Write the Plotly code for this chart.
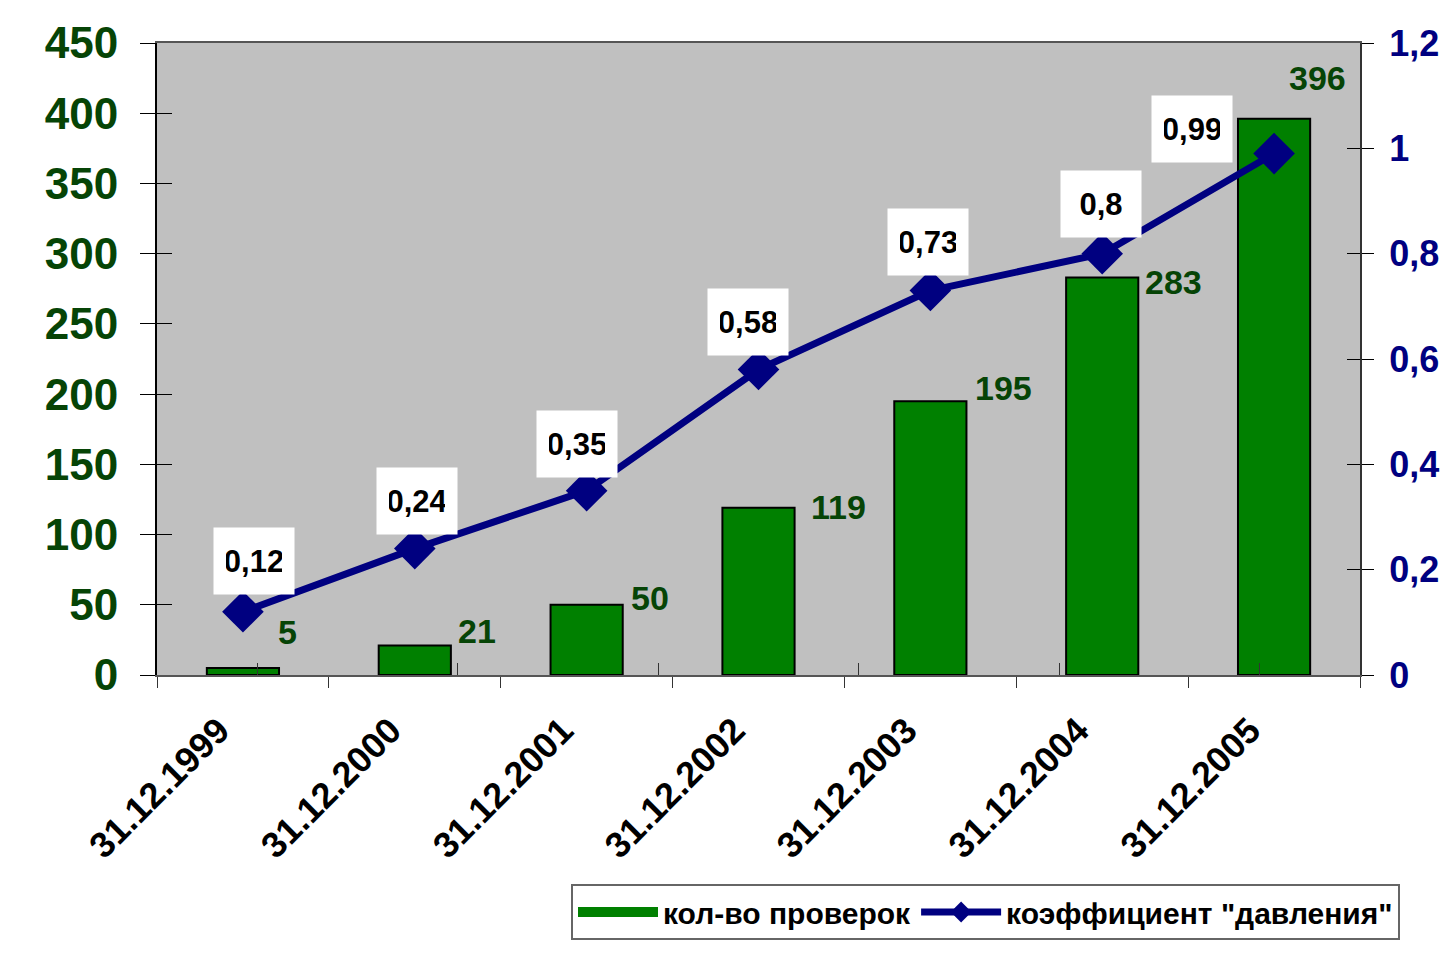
import plotly.graph_objects as go

categories = ["31.12.1999", "31.12.2000", "31.12.2001", "31.12.2002",
              "31.12.2003", "31.12.2004", "31.12.2005"]
checks = [5, 21, 50, 119, 195, 283, 396]
pressure = [0.12, 0.24, 0.35, 0.58, 0.73, 0.80, 0.99]
pressure_labels = ["0,12", "0,24", "0,35", "0,58", "0,73", "0,8", "0,99"]
left_ticks = [0, 50, 100, 150, 200, 250, 300, 350, 400, 450]
right_ticks = [0, 0.2, 0.4, 0.6, 0.8, 1.0, 1.2]
right_tick_text = ["0", "0,2", "0,4", "0,6", "0,8", "1", "1,2"]
series_names = ["кол-во проверок", 'коэффициент "давления"']

# label offsets (pixels) – manual placements as in the original
bar_label_shift = [(45, 36), (62, 15), (63, 7), (80, 1), (73, 13), (71, -4), (43, 41)]
line_label_shift = [(11, 51), (2, 48), (-10, 47), (-11, 48), (-2, 49), (-1, 50), (-82, 25)]

# page has an 8px body margin, so the figure is 8px smaller than the window
W, H = 1440, 952
ML, MR, MT, MB = 149, 88, 35, 285
PW, PH = W - ML - MR, H - MT - MB

FONT = "Arial, Liberation Sans, sans-serif"
GREEN_TXT = "#064406"
NAVY = "#000080"
GREEN = "#008000"

fig = go.Figure()
# legend entry for the bars (wide swatch like the original)
fig.add_trace(go.Scatter(
    x=[None], y=[None], name=series_names[0], mode="lines",
    line=dict(color=GREEN, width=16), hoverinfo="skip",
))
fig.add_trace(go.Bar(
    x=categories, y=checks, name=series_names[0], showlegend=False,
    marker=dict(color=GREEN, line=dict(color="black", width=2)),
    width=0.42, yaxis="y",
))
fig.add_trace(go.Scatter(
    x=categories, y=pressure, name=series_names[1], yaxis="y2",
    mode="lines+markers",
    line=dict(color=NAVY, width=7),
    marker=dict(symbol="diamond", size=32, color=NAVY),
))
# helper invisible traces for inner tick halves
fig.add_trace(go.Scatter(x=categories, y=checks, xaxis="x2", yaxis="y3",
                         mode="none", showlegend=False, hoverinfo="skip"))
fig.add_trace(go.Scatter(x=categories, y=pressure, xaxis="x2", yaxis="y4",
                         mode="none", showlegend=False, hoverinfo="skip"))

annotations = []
for c, v, (dx, dy) in zip(categories, checks, bar_label_shift):
    annotations.append(dict(x=c, y=v, xref="x", yref="y", text=str(v),
                            showarrow=False, xshift=dx, yshift=dy,
                            font=dict(family=FONT, size=34, color=GREEN_TXT, weight="bold")))
for c, v, t, (dx, dy) in zip(categories, pressure, pressure_labels, line_label_shift):
    annotations.append(dict(x=c, y=v, xref="x", yref="y2", text=t,
                            showarrow=False, xshift=dx, yshift=dy,
                            bgcolor="white", borderpad=12, width=56, height=42,
                            font=dict(family=FONT, size=31, color="black", weight="bold")))

fig.update_layout(
    width=W, height=H,
    margin=dict(l=ML, r=MR, t=MT, b=MB, autoexpand=False),
    paper_bgcolor="white", plot_bgcolor="#c0c0c0",
    separators=", ",
    font=dict(family=FONT),
    xaxis=dict(type="category", categoryorder="array", categoryarray=categories,
               tickson="boundaries", ticks="outside", ticklen=11, tickcolor="#333",
               tickangle=-45, showline=True, linecolor="#555", linewidth=2, mirror=True,
               ticklabelshift=-24, ticklabelstandoff=18,
               tickfont=dict(family=FONT, size=36, color="black", weight="bold"),
               showgrid=False, zeroline=False),
    xaxis2=dict(type="category", categoryorder="array", categoryarray=categories,
                overlaying="x", anchor="y", tickson="boundaries", ticks="inside",
                ticklen=12, tickcolor="#333", showticklabels=False, showline=False,
                showgrid=False, zeroline=False),
    yaxis=dict(range=[0, 450], tickvals=left_ticks, ticks="outside", ticklen=15,
               tickcolor="black", showline=True, linecolor="black", linewidth=2,
               showgrid=False, zeroline=False, ticklabelstandoff=13,
               tickfont=dict(family=FONT, size=44, color=GREEN_TXT, weight="bold")),
    yaxis2=dict(range=[0, 1.2], tickvals=right_ticks, ticktext=right_tick_text,
                overlaying="y", side="right", anchor="x", ticks="outside", ticklen=12,
                tickcolor="black", showline=True, linecolor="#333", linewidth=2,
                showgrid=False, zeroline=False, ticklabelstandoff=8,
                tickfont=dict(family=FONT, size=36, color=NAVY, weight="bold")),
    yaxis3=dict(range=[0, 450], tickvals=left_ticks, overlaying="y", anchor="x",
                side="left", ticks="inside", ticklen=15, tickcolor="black",
                showticklabels=False, showline=False, showgrid=False, zeroline=False),
    yaxis4=dict(range=[0, 1.2], tickvals=right_ticks, overlaying="y", anchor="x",
                side="right", ticks="inside", ticklen=13, tickcolor="black",
                showticklabels=False, showline=False, showgrid=False, zeroline=False),
    legend=dict(orientation="h", x=(563 - ML) / PW, y=(H - MB - 876) / PH,
                xanchor="left", yanchor="top",
                bgcolor="white", bordercolor="#666", borderwidth=2,
                itemwidth=80,
                font=dict(family=FONT, size=30, color="black", weight="bold"),
                tracegroupgap=0),
    annotations=annotations,
    showlegend=True,
)

fig.write_html("out.html")
